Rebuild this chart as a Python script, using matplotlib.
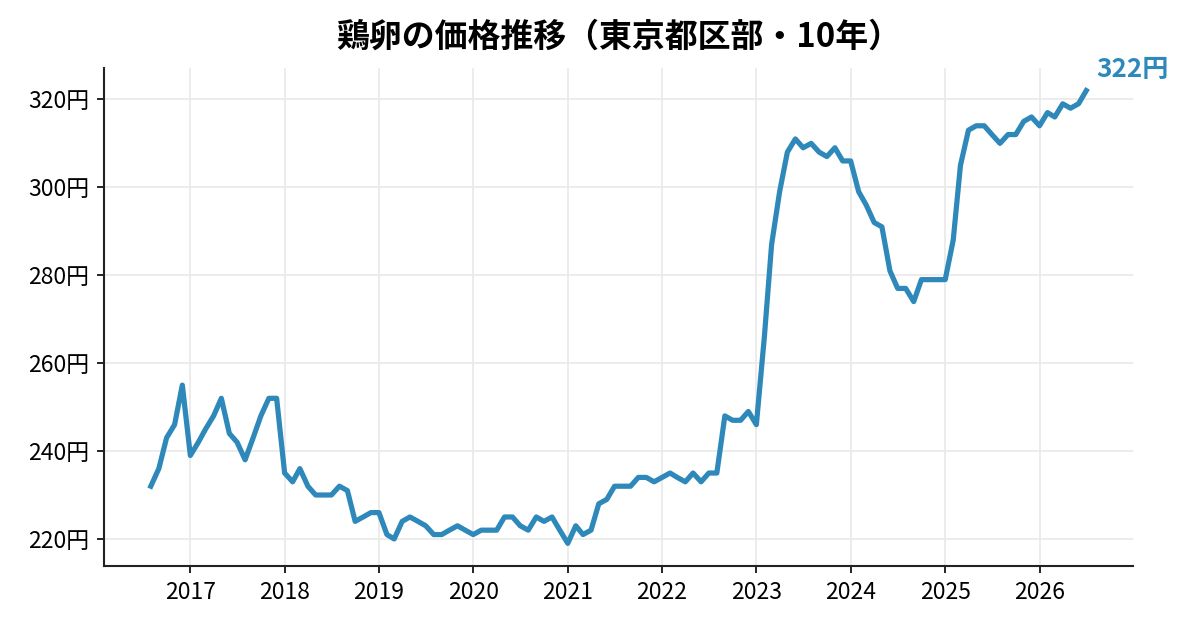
"""鶏卵の価格推移（東京都区部・10年） — 折線グラフ"""

import matplotlib
matplotlib.use("Agg")
import matplotlib.pyplot as plt
import matplotlib.dates as mdates
import pandas as pd

plt.rcParams["font.family"] = ["Noto Sans CJK JP", "DejaVu Sans"]

LINE_COLOR = "#2e89ba"

# 月次データ 2016-08 〜 2026-07（円）
start_month = "2016-08-01"
prices_2016 = [232, 236, 243, 246, 255]
prices_2017 = [239, 242, 245, 248, 252, 244, 242, 238, 243, 248, 252, 252]
prices_2018 = [235, 233, 236, 232, 230, 230, 230, 232, 231, 224, 225, 226]
prices_2019 = [226, 221, 220, 224, 225, 224, 223, 221, 221, 222, 223, 222]
prices_2020 = [221, 222, 222, 222, 225, 225, 223, 222, 225, 224, 225, 222]
prices_2021 = [219, 223, 221, 222, 228, 229, 232, 232, 232, 234, 234, 233]
prices_2022 = [234, 235, 234, 233, 235, 233, 235, 235, 248, 247, 247, 249]
prices_2023 = [246, 266, 287, 299, 308, 311, 309, 310, 308, 307, 309, 306]
prices_2024 = [306, 299, 296, 292, 291, 281, 277, 277, 274, 279, 279, 279]
prices_2025 = [279, 288, 305, 313, 314, 314, 312, 310, 312, 312, 315, 316]
prices_2026 = [314, 317, 316, 319, 318, 319, 322]
yticks = [220, 240, 260, 280, 300, 320]

prices = (prices_2016 + prices_2017 + prices_2018 + prices_2019 + prices_2020
          + prices_2021 + prices_2022 + prices_2023 + prices_2024 + prices_2025
          + prices_2026)
dates = pd.date_range(start_month, periods=len(prices), freq="MS")

fig = plt.figure(figsize=(8, 4.2), dpi=150)
ax = fig.add_axes([0.0867, 0.1016, 0.8575, 0.7905])

ax.plot(dates, prices, color=LINE_COLOR, linewidth=2.5)
ax.set_title("鶏卵の価格推移（東京都区部・10年）", fontsize=15.8, fontweight="bold", pad=10)

ax.set_yticks(yticks)
ax.set_yticklabels([f"{v}円" for v in yticks])
ax.xaxis.set_major_locator(mdates.YearLocator())
ax.xaxis.set_major_formatter(mdates.DateFormatter("%Y"))
ax.tick_params(labelsize=11)

ax.grid(True, color="#e9e9e9", linewidth=0.8)
ax.set_axisbelow(True)
for side in ("top", "right"):
    ax.spines[side].set_visible(False)
for side in ("left", "bottom"):
    ax.spines[side].set_linewidth(1.0)
    ax.spines[side].set_color("#222222")

# 最新値ラベル
ax.annotate(f"{prices[-1]}円", (dates[-1], prices[-1]), textcoords="offset points",
            xytext=(5, 10), ha="left", va="center", fontsize=12.5,
            fontweight="bold", color=LINE_COLOR, annotation_clip=False)

fig.savefig("out.png", dpi=150)
